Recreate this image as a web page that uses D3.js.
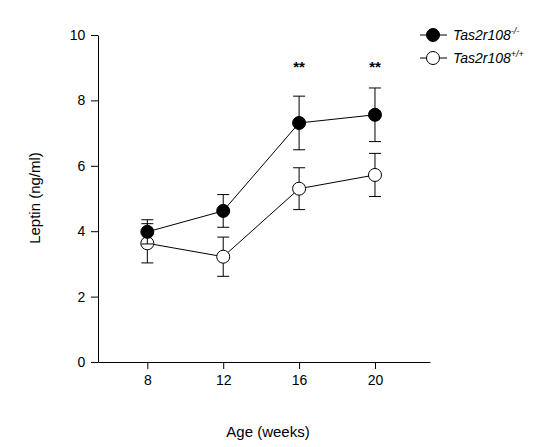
<!DOCTYPE html>
<html><head><meta charset="utf-8">
<script src="https://cdn.jsdelivr.net/npm/d3@7"></script>
<style>body{margin:0;background:#fff}</style>
</head><body><div id="chart"></div>
<script>
const ages = [8, 12, 16, 20];
const koMean = [3.98, 4.62, 7.31, 7.56];
const koErr = [0.37, 0.5, 0.82, 0.82];
const wtMean = [3.63, 3.22, 5.3, 5.72];
const wtErr = [0.6, 0.6, 0.64, 0.66];
const sig = ['', '', '**', '**'];
const yTicks = [0, 2, 4, 6, 8, 10];

const svg = d3.select('#chart').append('svg').attr('width', 549).attr('height', 447);
const x = d3.scaleLinear().domain([5.4, 22.9]).range([98, 430]);
const y = d3.scaleLinear().domain([0, 10]).range([362, 35]);
const font = 'Arial, Liberation Sans, sans-serif';

const ya = svg.append('g').attr('transform', 'translate(98,0)')
  .call(d3.axisLeft(y).tickValues(yTicks).tickSize(7).tickSizeOuter(0));
const xa = svg.append('g').attr('transform', 'translate(0,362)')
  .call(d3.axisBottom(x).tickValues(ages).tickSize(7).tickSizeOuter(0));
[ya, xa].forEach(a => {
  a.selectAll('text').attr('font-size', 14).attr('font-family', font).attr('fill', '#000');
  a.selectAll('line,path').attr('stroke', '#000');
});
ya.selectAll('text').attr('dx', '-0.2em');
xa.selectAll('text').attr('dy', '0.9em');

svg.append('text').attr('x', 268).attr('y', 437).attr('text-anchor', 'middle')
  .attr('font-size', 15).attr('font-family', font).text('Age (weeks)');
svg.append('text').attr('transform', 'translate(40,198) rotate(-90)').attr('text-anchor', 'middle')
  .attr('font-size', 15).attr('font-family', font).text('Leptin (ng/ml)');

function series(mean, err, fill) {
  const d = ages.map((a, i) => ({a, m: mean[i], e: err[i]}));
  const g = svg.append('g');
  g.append('path').datum(d).attr('fill', 'none').attr('stroke', '#000')
    .attr('d', d3.line().x(p => x(p.a)).y(p => y(p.m)));
  d.forEach(p => {
    g.append('line').attr('x1', x(p.a)).attr('x2', x(p.a)).attr('y1', y(p.m - p.e)).attr('y2', y(p.m + p.e)).attr('stroke', '#000');
    [p.m - p.e, p.m + p.e].forEach(v => g.append('line').attr('x1', x(p.a) - 6).attr('x2', x(p.a) + 6)
      .attr('y1', y(v)).attr('y2', y(v)).attr('stroke', '#000'));
  });
  g.selectAll('circle').data(d).join('circle').attr('cx', p => x(p.a)).attr('cy', p => y(p.m))
    .attr('r', 6.5).attr('fill', fill).attr('stroke', '#000');
}
series(wtMean, wtErr, '#fff');
series(koMean, koErr, '#000');

svg.selectAll('.sig').data(ages).join('text').attr('x', a => x(a)).attr('y', 72)
  .attr('text-anchor', 'middle').attr('font-size', 15).attr('font-weight', 'bold')
  .attr('font-family', font).text((a, i) => sig[i]);

const leg = [{fill: '#000', sup: '-/-', y: 35}, {fill: '#fff', sup: '+/+', y: 58}];
leg.forEach(l => {
  svg.append('line').attr('x1', 420).attr('x2', 447).attr('y1', l.y).attr('y2', l.y).attr('stroke', '#000');
  svg.append('circle').attr('cx', 433).attr('cy', l.y).attr('r', 6.5).attr('fill', l.fill).attr('stroke', '#000');
  const t = svg.append('text').attr('x', 453).attr('y', l.y + 5).attr('font-size', 14)
    .attr('font-family', font).attr('font-style', 'italic');
  t.append('tspan').text('Tas2r108');
  t.append('tspan').attr('font-size', 9).attr('dy', -6).text(l.sup);
});
</script></body></html>
